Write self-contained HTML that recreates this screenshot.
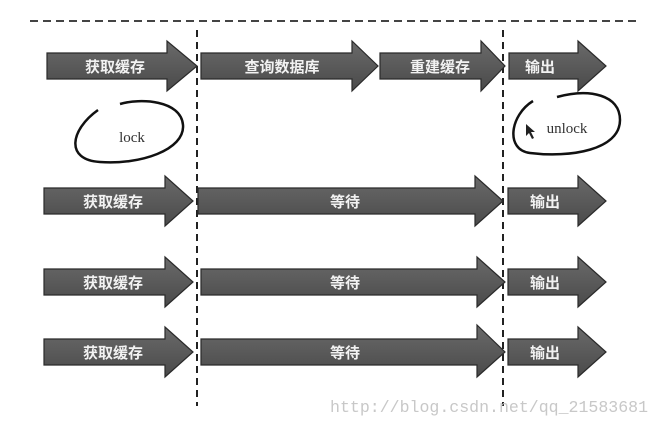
<!DOCTYPE html>
<html><head><meta charset="utf-8"><style>
html,body{margin:0;padding:0;background:#fff;}
svg{display:block;}
.t{font-family:"Liberation Sans","Noto Sans CJK SC",sans-serif;font-size:15px;font-weight:bold;fill:#f2f2f2;text-anchor:middle;}
</style></head><body>
<svg width="662" height="426" viewBox="0 0 662 426" xmlns="http://www.w3.org/2000/svg">
<defs>
<linearGradient id="g" x1="0" y1="0" x2="0" y2="1">
<stop offset="0" stop-color="#6a6a6a"/><stop offset="1" stop-color="#4a4a4a"/>
</linearGradient>
</defs>
<line x1="30" y1="21" x2="640" y2="21" stroke="#444" stroke-width="2" stroke-dasharray="8,5"/>
<line x1="197" y1="30" x2="197" y2="406" stroke="#222" stroke-width="2" stroke-dasharray="7,5"/>
<line x1="503" y1="30" x2="503" y2="406" stroke="#222" stroke-width="2" stroke-dasharray="7,5"/>
<g fill="url(#g)" stroke="#2a2a2a" stroke-width="1.2">
<path d="M47,53 H167 V41 L197,66 L167,91 V79 H47 Z"/>
<path d="M201,53 H352 V41 L378,66 L352,91 V79 H201 Z"/>
<path d="M380,53 H481 V41 L505,66 L481,91 V79 H380 Z"/>
<path d="M509,53 H578 V41 L606,66 L578,91 V79 H509 Z"/>
<path d="M44,188 H165 V176 L193,201 L165,226 V214 H44 Z"/>
<path d="M198,188 H475 V176 L503,201 L475,226 V214 H198 Z"/>
<path d="M508,188 H578 V176 L606,201 L578,226 V214 H508 Z"/>
<path d="M44,269 H165 V257 L193,282 L165,307 V295 H44 Z"/>
<path d="M201,269 H477 V257 L505,282 L477,307 V295 H201 Z"/>
<path d="M508,269 H578 V257 L606,282 L578,307 V295 H508 Z"/>
<path d="M44,339 H165 V327 L193,352 L165,377 V365 H44 Z"/>
<path d="M201,339 H477 V325 L505,352 L477,377 V365 H201 Z"/>
<path d="M508,339 H578 V327 L606,352 L578,377 V365 H508 Z"/>
</g>
<g class="t">
<text x="115" y="72">获取缓存</text>
<text x="282" y="72">查询数据库</text>
<text x="440" y="72">重建缓存</text>
<text x="540" y="72">输出</text>
<text x="113" y="207">获取缓存</text>
<text x="345" y="207">等待</text>
<text x="545" y="207">输出</text>
<text x="113" y="288">获取缓存</text>
<text x="345" y="288">等待</text>
<text x="545" y="288">输出</text>
<text x="113" y="358">获取缓存</text>
<text x="345" y="358">等待</text>
<text x="545" y="358">输出</text>
</g>
<path d="M98,110 C70,130 65,160 100,162 C140,165 185,150 183,125 C181,100 140,98 120,104" fill="none" stroke="#111" stroke-width="2.5"/>
<text x="132" y="142" font-family="Liberation Serif,serif" font-size="15" fill="#333" text-anchor="middle">lock</text>
<path d="M533,101 C510,115 505,150 530,153 C570,158 620,150 620,120 C620,95 590,88 557,97" fill="none" stroke="#111" stroke-width="2.5"/>
<text x="567" y="133" font-family="Liberation Serif,serif" font-size="15" fill="#333" text-anchor="middle">unlock</text>
<path d="M526,124 L526,136 L529,133 L532,139 L534,138 L531,132 L535,132 Z" fill="#222"/>
<text x="330" y="412" font-family="Liberation Mono,monospace" font-size="17" fill="#c8c8c8" textLength="318" lengthAdjust="spacingAndGlyphs">http://blog.csdn.net/qq_21583681</text>
</svg>
</body></html>
